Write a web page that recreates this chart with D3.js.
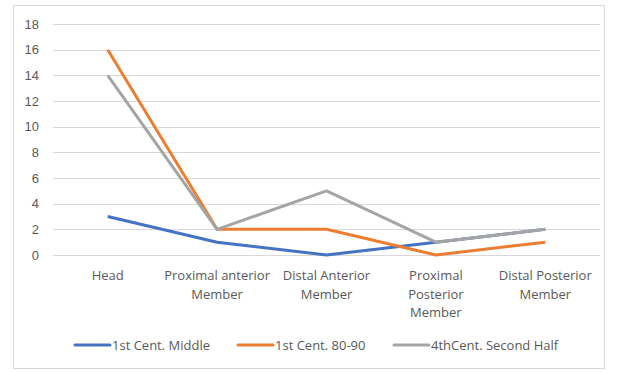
<!DOCTYPE html>
<html>
<head>
<meta charset="utf-8">
<script src="https://cdn.jsdelivr.net/npm/d3@7"></script>
<style>
  html, body { margin: 0; padding: 0; background: #fff; }
  svg { display: block; font-family: "Open Sans", "Liberation Sans", sans-serif; }
</style>
</head>
<body>
<svg id="chart" width="619" height="372"></svg>
<script>
// Categories (x axis), one label line per entry
const categories = [
  ["Head"],
  ["Proximal anterior", "Member"],
  ["Distal Anterior", "Member"],
  ["Proximal", "Posterior", "Member"],
  ["Distal Posterior", "Member"]
];
const seriesNames = ["1st Cent. Middle", "1st Cent. 80-90", "4thCent. Second Half"];
const middle1st = [3, 1, 0, 1, 2];
const late1st = [16, 2, 2, 0, 1];
const secondHalf4th = [14, 2, 5, 1, 2];
const yTicks = [0, 2, 4, 6, 8, 10, 12, 14, 16, 18];
const colors = ["#4472C4", "#ED7D31", "#A5A5A5"];

const series = [middle1st, late1st, secondHalf4th].map((values, i) => ({
  name: seriesNames[i], values, color: colors[i]
}));

const svg = d3.select("#chart");

// chart frame
svg.append("rect")
  .attr("x", 13.5).attr("y", 5.5).attr("width", 591).attr("height", 363)
  .attr("fill", "#fff").attr("stroke", "#d9d9d9").attr("stroke-width", 1);

const plot = { left: 53, right: 600, top: 24, bottom: 255 };

const x = d3.scaleBand()
  .domain(d3.range(categories.length))
  .range([plot.left, plot.right]);
const y = d3.scaleLinear().domain([0, 18]).range([plot.bottom, plot.top]);

// horizontal gridlines
svg.append("g").selectAll("line").data(yTicks).join("line")
  .attr("x1", plot.left).attr("x2", plot.right)
  .attr("y1", d => Math.round(y(d)) + 0.5).attr("y2", d => Math.round(y(d)) + 0.5)
  .attr("stroke", "#d9d9d9").attr("stroke-width", 1);

// y axis labels
const yAxis = d3.axisLeft(y).tickValues(yTicks).tickSize(0).tickPadding(0);
const yg = svg.append("g").attr("transform", `translate(${39},0)`).call(yAxis);
yg.select(".domain").remove();
yg.selectAll("text").attr("fill", "#595959").attr("font-size", 13);

// x axis labels (multi-line)
const xg = svg.append("g").selectAll("text").data(categories).join("text")
  .attr("x", (d, i) => x(i) + x.bandwidth() / 2)
  .attr("y", 280)
  .attr("text-anchor", "middle")
  .attr("fill", "#595959").attr("font-size", 13);
xg.selectAll("tspan").data(d => d).join("tspan")
  .attr("x", function () { return this.parentNode.getAttribute("x"); })
  .attr("dy", (d, i) => i === 0 ? 0 : 18.5)
  .text(d => d);

// series lines
const line = d3.line()
  .x((d, i) => x(i) + x.bandwidth() / 2)
  .y(d => y(d));

svg.append("g").selectAll("path").data(series).join("path")
  .attr("d", d => line(d.values))
  .attr("fill", "none")
  .attr("stroke", d => d.color)
  .attr("stroke-width", 3)
  .attr("stroke-linejoin", "round");

// legend
const legendX = [75, 238, 394];
const lg = svg.append("g").selectAll("g").data(series).join("g")
  .attr("transform", (d, i) => `translate(${legendX[i]},345)`);
lg.append("line")
  .attr("x1", 0).attr("x2", 35).attr("y1", 0).attr("y2", 0)
  .attr("stroke", d => d.color).attr("stroke-width", 3).attr("stroke-linecap", "round");
lg.append("text")
  .attr("x", 37).attr("y", 4.5)
  .attr("fill", "#595959").attr("font-size", 13)
  .text(d => d.name);
</script>
</body>
</html>
